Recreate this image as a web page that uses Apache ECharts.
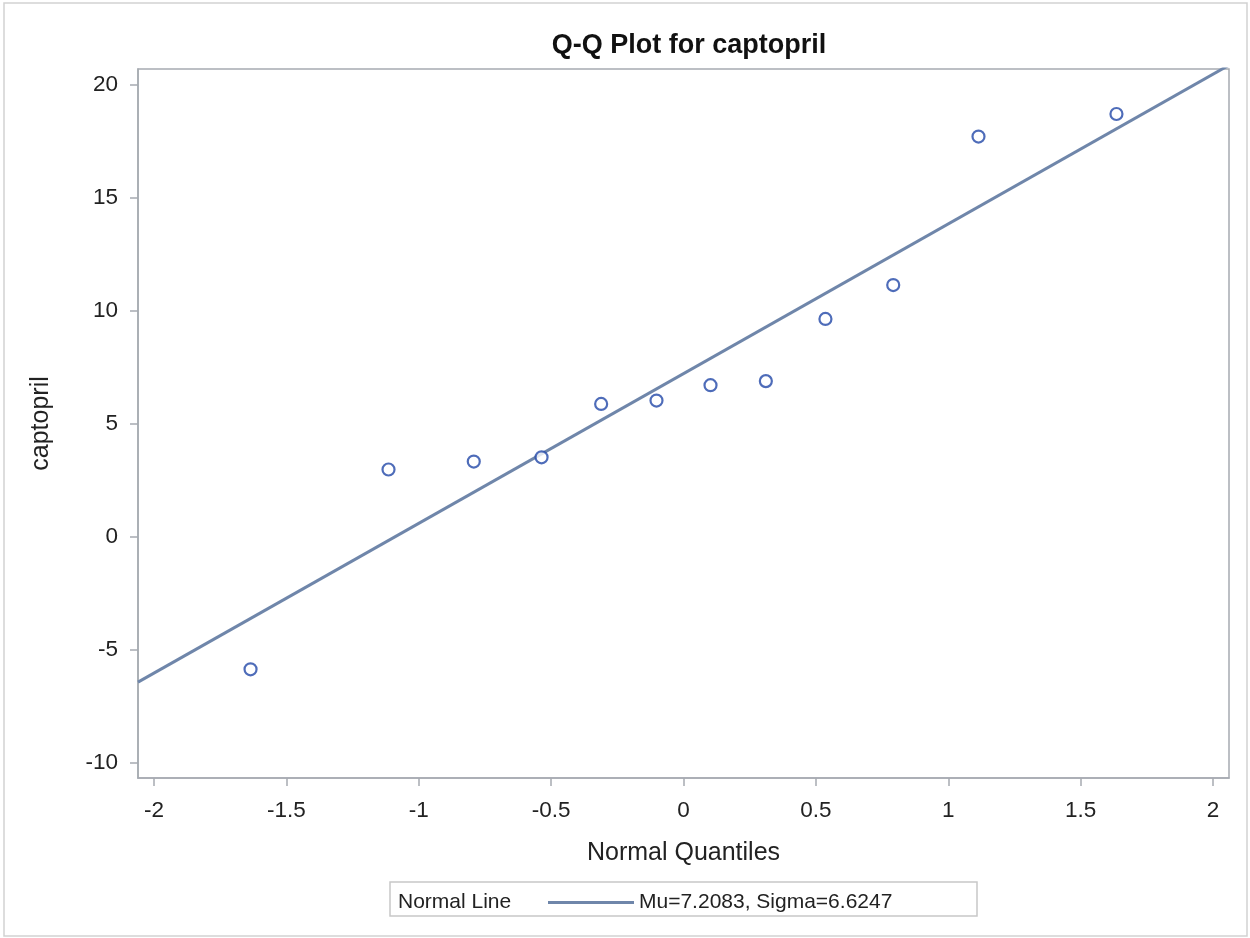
<!DOCTYPE html>
<html>
<head>
<meta charset="utf-8">
<script src="https://cdn.jsdelivr.net/npm/echarts@6/dist/echarts.min.js"></script>
<style>
  html, body { margin: 0; padding: 0; background: #fff; }
  #chart { width: 1250px; height: 938px; }
</style>
</head>
<body>
<div id="chart"></div>
<script>
// ---- Data ----
const titleText = 'Q-Q Plot for captopril';
const xName = 'Normal Quantiles';
const yName = 'captopril';
const quantiles = [-1.635, -1.114, -0.792, -0.536, -0.311, -0.102, 0.102, 0.311, 0.536, 0.792, 1.114, 1.635];
const captopril = [-5.87, 2.97, 3.32, 3.51, 5.87, 6.02, 6.70, 6.88, 9.63, 11.13, 17.70, 18.70];
const lineX = [-2.06, 2.06];
const lineY = [-6.44, 20.86];
const xTicks = [-2, -1.5, -1, -0.5, 0, 0.5, 1, 1.5, 2];
const yTicks = [-10, -5, 0, 5, 10, 15, 20];
const legendTitle = 'Normal Line';
const lineLabel = 'Mu=7.2083, Sigma=6.6247';

const FONT = '"Liberation Sans", Arial, sans-serif';
const AXIS_GREY = '#a6abb1';
const TEXT = '#222';
const LINE_COLOR = '#6f86aa';

const chart = echarts.init(document.getElementById('chart'));
chart.setOption({
  animation: false,
  backgroundColor: '#fff',
  title: {
    text: titleText,
    left: 684, top: 27, textAlign: 'center',
    textStyle: { fontFamily: FONT, fontSize: 27, fontWeight: 'bold', color: '#111' }
  },
  grid: {
    left: 138, right: 21, top: 69, bottom: 160,
    containLabel: false,
    show: true, borderColor: AXIS_GREY, borderWidth: 1.5, backgroundColor: '#fff'
  },
  xAxis: {
    type: 'value', min: -2.06, max: 2.06,
    name: xName, nameLocation: 'middle', nameGap: 63,
    nameTextStyle: { fontFamily: FONT, fontSize: 25, color: TEXT },
    axisLine: { show: true, onZero: false, lineStyle: { color: AXIS_GREY, width: 1.5 } },
    axisTick: { show: true, inside: false, length: 8, customValues: xTicks, lineStyle: { color: AXIS_GREY, width: 1.5 } },
    axisLabel: { customValues: xTicks, margin: 21, fontFamily: FONT, fontSize: 22.5, color: TEXT },
    splitLine: { show: false }
  },
  yAxis: {
    type: 'value', min: -10.68, max: 20.69,
    name: yName, nameLocation: 'middle', nameGap: 84, nameRotate: 90,
    nameTextStyle: { fontFamily: FONT, fontSize: 25, color: TEXT },
    axisLine: { show: true, onZero: false, lineStyle: { color: AXIS_GREY, width: 1.5 } },
    axisTick: { show: true, inside: false, length: 8, customValues: yTicks, lineStyle: { color: AXIS_GREY, width: 1.5 } },
    axisLabel: { customValues: yTicks, margin: 20, fontFamily: FONT, fontSize: 22.5, color: TEXT },
    splitLine: { show: false }
  },
  legend: {
    data: [{ name: lineLabel, icon: 'rect' }],
    left: 548, top: 886,
    itemWidth: 86, itemHeight: 3,
    padding: [6, 0, 6, 0],
    itemStyle: { color: LINE_COLOR },
    textStyle: { fontFamily: FONT, fontSize: 21, color: TEXT }
  },
  graphic: [
    { type: 'rect', shape: { x: 4, y: 3, width: 1243, height: 933 }, style: { fill: 'none', stroke: '#d2d2d2', lineWidth: 1.5 }, silent: true, z: -10 },
    { type: 'rect', shape: { x: 390, y: 882, width: 587, height: 34 }, style: { fill: 'none', stroke: '#c8c8c8', lineWidth: 1.5 }, silent: true },
    { type: 'text', left: 398, top: 892, style: { text: legendTitle, font: '21px ' + FONT, fill: TEXT } }
  ],
  series: [
    {
      name: lineLabel, type: 'line',
      data: lineX.map((x, i) => [x, lineY[i]]),
      symbol: 'none', clip: true,
      lineStyle: { color: LINE_COLOR, width: 3 },
      itemStyle: { color: LINE_COLOR },
      z: 2
    },
    {
      name: 'captopril', type: 'scatter',
      data: quantiles.map((x, i) => [x, captopril[i]]),
      symbol: 'circle', symbolSize: 12,
      itemStyle: { color: '#fff', borderColor: '#2247a8', borderWidth: 2.2 },
      z: 3
    }
  ]
});
</script>
</body>
</html>
